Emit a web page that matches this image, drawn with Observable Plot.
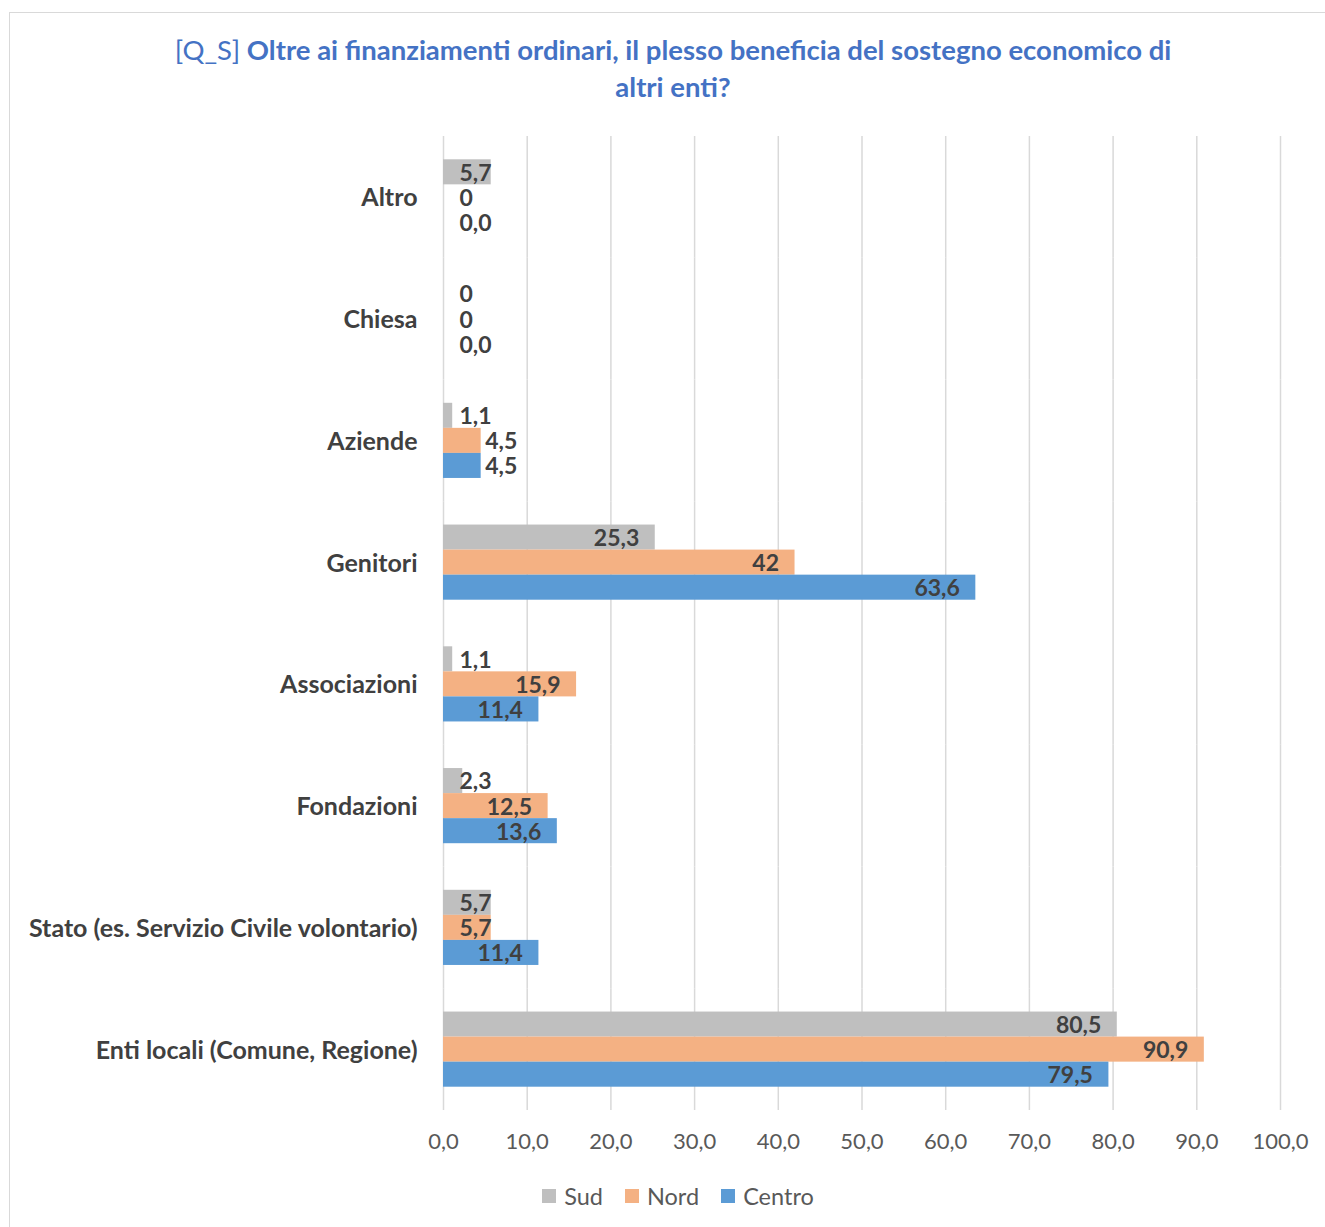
<!DOCTYPE html>
<html>
<head>
<meta charset="utf-8">
<script src="https://cdn.jsdelivr.net/npm/d3@7"></script>
<script src="https://cdn.jsdelivr.net/npm/@observablehq/plot@0.6"></script>
<style>
  html, body { margin: 0; padding: 0; background: #fff; overflow: hidden; }
  body { width: 1325px; height: 1227px; position: relative; font-family: Lato, "Open Sans", sans-serif; }
  #frame { position: absolute; left: 9px; top: 12px; width: 1330px; height: 1230px; border: 1.5px solid #d9d9d9; box-sizing: border-box; }
  #title { position: absolute; left: 0; top: 31px; width: 1346px; text-align: center; color: #4472c4; font-size: 27.5px; line-height: 37px; font-weight: bold; }
  #title .tag { font-weight: normal; }
  #chart { position: absolute; left: 0; top: 120px; }
  #legend { position: absolute; left: 0; top: 1182px; width: 1356px; display: flex; justify-content: center; gap: 22px; color: #595959; font-size: 23.5px; }
  #legend .item { display: flex; align-items: center; gap: 8px; }
  #legend .sw { width: 14px; height: 14px; display: inline-block; }
</style>
</head>
<body>
<div id="frame"></div>
<div id="title"><span class="tag">[Q_S]</span> Oltre ai finanziamenti ordinari, il plesso beneficia del sostegno economico di<br>altri enti?</div>
<div id="chart"></div>
<div id="legend"></div>
<script>
// ---- data ----
const categories = ["Altro", "Chiesa", "Aziende", "Genitori", "Associazioni", "Fondazioni", "Stato (es. Servizio Civile volontario)", "Enti locali (Comune, Regione)"];
const series = ["Sud", "Nord", "Centro"];
const sudValues    = [5.7, 0, 1.1, 25.3, 1.1, 2.3, 5.7, 80.5];
const nordValues   = [0, 0, 4.5, 42, 15.9, 12.5, 5.7, 90.9];
const centroValues = [0, 0, 4.5, 63.6, 11.4, 13.6, 11.4, 79.5];
const sudLabels    = ["5,7", "0", "1,1", "25,3", "1,1", "2,3", "5,7", "80,5"];
const nordLabels   = ["0", "0", "4,5", "42", "15,9", "12,5", "5,7", "90,9"];
const centroLabels = ["0,0", "0,0", "4,5", "63,6", "11,4", "13,6", "11,4", "79,5"];
const xTicks = [0, 10, 20, 30, 40, 50, 60, 70, 80, 90, 100];
const colors = ["#bfbfbf", "#f4b183", "#5b9bd5"];

// ---- layout ----
const W = 1325, H = 1040, mL = 443, mR = 45, mT = 16, mB = 50;
const labelFont = "bold 23px Lato";
const k = (W - mL - mR) / 100; // px per unit

const ctx = document.createElement("canvas").getContext("2d");
ctx.font = labelFont;

const valueSets = [sudValues, nordValues, centroValues];
const labelSets = [sudLabels, nordLabels, centroLabels];
const rows = [];
categories.forEach((c, i) => {
  series.forEach((s, j) => {
    const v = valueSets[j][i];
    const label = labelSets[j][i];
    const w = ctx.measureText(label).width;
    const barPx = v * k;
    let inside = barPx >= w + 32;
    let leftPx = 16;
    if (!inside) {
      if (barPx >= 16 + w - 6) leftPx = 16;
      else if (barPx > 22) leftPx = barPx + 4;
      else leftPx = 16;
    }
    rows.push({category: c, series: s, value: v, label, inside, lx: leftPx / k});
  });
});

const chart = Plot.plot({
  width: W,
  height: H,
  marginLeft: mL,
  marginRight: mR,
  marginTop: mT,
  marginBottom: mB,
  style: {fontFamily: "Lato, sans-serif", fontSize: "22px", color: "#595959", background: "transparent"},
  facet: {data: rows, y: "category"},
  fy: {domain: categories, padding: 0, round: false, axis: null},
  y: {domain: series, paddingInner: 0, paddingOuter: 0.93, round: false, axis: null},
  x: {domain: [0, 100], ticks: xTicks, tickFormat: d => d.toFixed(1).replace(".", ","), tickSize: 0, tickPadding: 23, label: null, line: false},
  color: {domain: series, range: colors},
  marks: [
    Plot.ruleX(xTicks, {stroke: "#d9d9d9", strokeWidth: 1.5}),
    Plot.barX(rows, {x: "value", y: "series", fill: "series", inset: 0}),
    Plot.text(rows, {filter: d => d.inside, x: "value", y: "series", text: "label", textAnchor: "end", dx: -16, dy: 1, fill: "#404040", fontWeight: "bold", fontSize: 23}),
    Plot.text(rows, {filter: d => !d.inside, x: "lx", y: "series", text: "label", textAnchor: "start", dy: 1, fill: "#404040", fontWeight: "bold", fontSize: 23}),
    Plot.text(rows, {filter: d => d.series === "Nord", x: () => 0, dy: 1, text: "category", textAnchor: "end", dx: -26, fill: "#404040", fontWeight: "bold", fontSize: 25})
  ]
});
document.getElementById("chart").appendChild(chart);

// legend
const legend = document.getElementById("legend");
series.forEach((s, j) => {
  const item = document.createElement("div");
  item.className = "item";
  const sw = document.createElement("span");
  sw.className = "sw";
  sw.style.background = colors[j];
  const t = document.createElement("span");
  t.textContent = s;
  item.appendChild(sw); item.appendChild(t);
  legend.appendChild(item);
});
</script>
</body>
</html>
